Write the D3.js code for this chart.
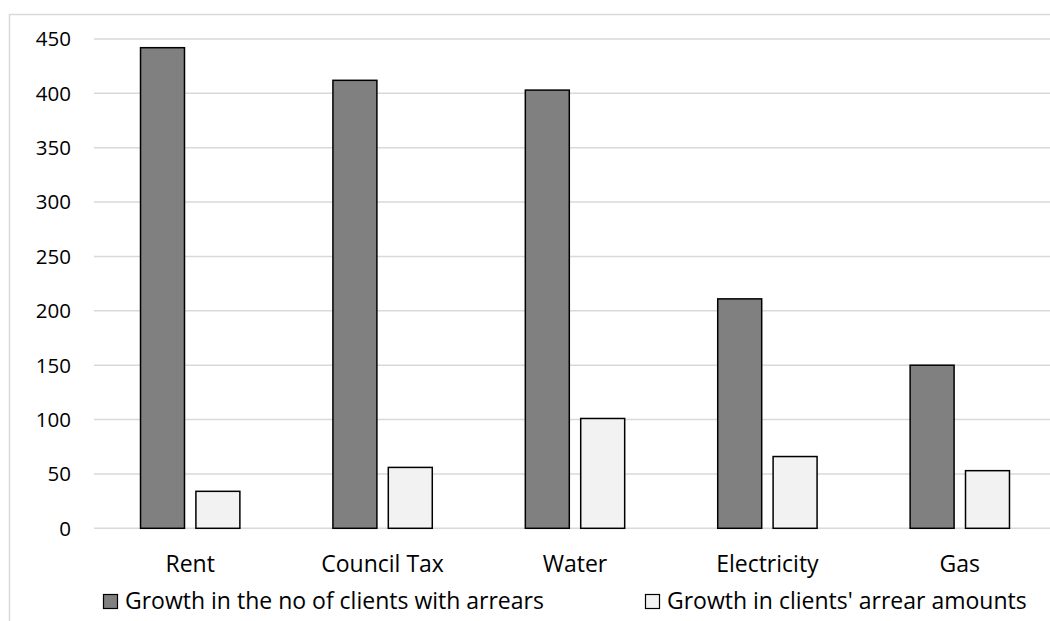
<!DOCTYPE html>
<html>
<head>
<meta charset="utf-8">
<script src="https://cdn.jsdelivr.net/npm/d3@7"></script>
<style>
  body { margin: 0; background: #fff; }
  text { font-family: "Open Sans", Lato, sans-serif; fill: #000; }
</style>
</head>
<body>
<svg id="chart"></svg>
<script>
const width = 1050;
const height = 621;

// data
const categories = ["Rent", "Council Tax", "Water", "Electricity", "Gas"];
const seriesNames = ["Growth in the no of clients with arrears", "Growth in clients' arrear amounts"];
const clientsGrowth = [442, 412, 403, 211, 150];
const amountGrowth = [34, 56, 101, 66, 53];
const yTicks = [0, 50, 100, 150, 200, 250, 300, 350, 400, 450];
const fills = ["#808080", "#f2f2f2"];

const svg = d3.select("#chart").attr("width", width).attr("height", height);

// chart frame (cut off on right and bottom)
svg.append("rect")
  .attr("x", 9.5).attr("y", 14.5)
  .attr("width", 1100).attr("height", 700)
  .attr("fill", "none")
  .attr("stroke", "#d9d9d9")
  .attr("stroke-width", 1.5);

const x0 = d3.scaleBand().domain(categories).range([94, 1056]);
const x1 = d3.scaleBand().domain(d3.range(seriesNames.length))
  .range([0, x0.bandwidth()])
  .paddingInner(0.206)
  .paddingOuter(0.84);
const y = d3.scaleLinear().domain([0, 450]).range([528.3, 39]);

// gridlines
svg.append("g")
  .selectAll("line")
  .data(yTicks)
  .enter()
  .append("line")
  .attr("x1", 94)
  .attr("x2", 1056)
  .attr("y1", d => y(d))
  .attr("y2", d => y(d))
  .attr("stroke", "#d9d9d9")
  .attr("stroke-width", 1.5);

// y tick labels
svg.append("g")
  .selectAll("text")
  .data(yTicks)
  .enter()
  .append("text")
  .attr("x", 71)
  .attr("y", d => y(d))
  .attr("dy", "0.36em")
  .attr("text-anchor", "end")
  .attr("font-size", 20.5)
  .text(d => d);

// bars
const rows = categories.map((c, i) => ({ cat: c, vals: [clientsGrowth[i], amountGrowth[i]] }));

const groups = svg.append("g")
  .selectAll("g")
  .data(rows)
  .enter()
  .append("g")
  .attr("transform", d => `translate(${x0(d.cat)},0)`);

groups.selectAll("rect")
  .data(d => d.vals.map((v, k) => ({ k: k, v: v })))
  .enter()
  .append("rect")
  .attr("x", d => x1(d.k))
  .attr("width", x1.bandwidth())
  .attr("y", d => y(d.v))
  .attr("height", d => y(0) - y(d.v))
  .attr("fill", d => fills[d.k])
  .attr("stroke", "#000")
  .attr("stroke-width", 1.5);

// category labels
svg.append("g")
  .selectAll("text")
  .data(categories)
  .enter()
  .append("text")
  .attr("x", d => x0(d) + x0.bandwidth() / 2)
  .attr("y", 572)
  .attr("text-anchor", "middle")
  .attr("font-size", 23)
  .text(d => d);

// legend
const legendX = [103, 645];
const legend = svg.append("g")
  .selectAll("g")
  .data(seriesNames)
  .enter()
  .append("g")
  .attr("transform", (d, i) => `translate(${legendX[i]},0)`);

legend.append("rect")
  .attr("x", 0.5)
  .attr("y", 594.5)
  .attr("width", 14)
  .attr("height", 14)
  .attr("fill", (d, i) => fills[i])
  .attr("stroke", "#000")
  .attr("stroke-width", 1.2);

legend.append("text")
  .attr("x", 22)
  .attr("y", 609)
  .attr("font-size", 23)
  .text(d => d);
</script>
</body>
</html>
